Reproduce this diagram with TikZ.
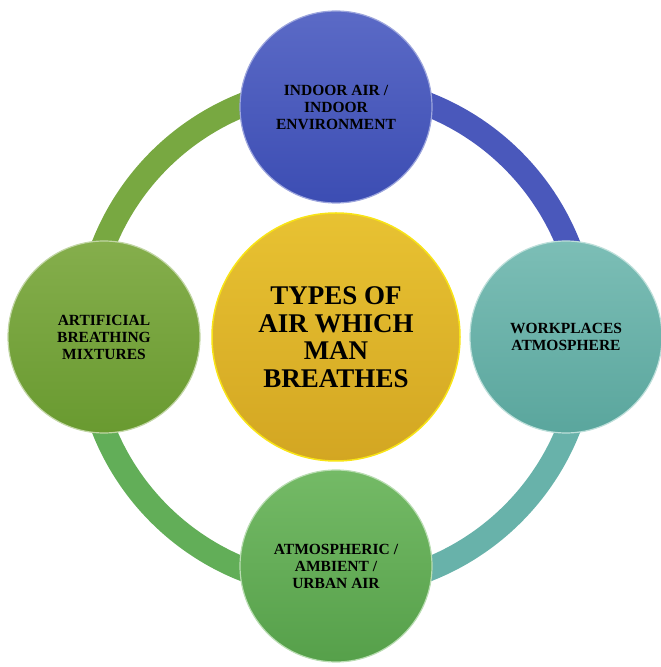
\documentclass[tikz,border=0pt]{standalone}
\usepackage{fontspec}
\setmainfont{Liberation Serif}
\begin{document}
\begin{tikzpicture}[x=1pt,y=1pt,
  bubble/.style={circle, inner sep=0pt, minimum size=192pt, align=center,
    font=\bfseries\fontsize{15.5}{17}\selectfont, line width=1.2pt},
  hub/.style={circle, inner sep=0pt, minimum size=248pt, align=center,
    font=\bfseries\fontsize{27}{27.5}\selectfont, line width=1.5pt},
  ringseg/.style={line width=24pt}]
\useasboundingbox (0,0) rectangle (661,667);
\definecolor{bluetop}{HTML}{5B6AC6}\definecolor{bluebot}{HTML}{3C4DB3}
\definecolor{tealtop}{HTML}{7CBEB6}\definecolor{tealbot}{HTML}{5AA69D}
\definecolor{olivtop}{HTML}{85AE4C}\definecolor{olivbot}{HTML}{699A30}
\definecolor{grntop}{HTML}{74BA66}\definecolor{grnbot}{HTML}{56A04A}
\definecolor{yeltop}{HTML}{E8C232}\definecolor{yelbot}{HTML}{D3A622}
\definecolor{ringblue}{HTML}{4A58BB}\definecolor{ringteal}{HTML}{68B2AA}
\definecolor{ringoliv}{HTML}{78A841}\definecolor{ringgrn}{HTML}{62AE58}
\coordinate (c) at (336,330);
% ring
\draw[ringseg, ringblue] ([shift={(90:250)}]c) arc[start angle=90, end angle=0, radius=250];
\draw[ringseg, ringteal] ([shift={(0:250)}]c) arc[start angle=0, end angle=-90, radius=250];
\draw[ringseg, ringgrn] ([shift={(-90:250)}]c) arc[start angle=-90, end angle=-180, radius=250];
\draw[ringseg, ringoliv] ([shift={(180:250)}]c) arc[start angle=180, end angle=90, radius=250];
% circles
\node[hub, top color=yeltop, bottom color=yelbot, draw=yellow!70!yeltop] (hub) at (336,330)
  {TYPES OF\\AIR WHICH\\MAN\\BREATHES};
\node[bubble, top color=bluetop, bottom color=bluebot, draw=bluetop!60!white] (indoor) at (336,560)
  {INDOOR AIR /\\INDOOR\\ENVIRONMENT};
\node[bubble, top color=tealtop, bottom color=tealbot, draw=tealtop!50!white] (work) at (566,330)
  {WORKPLACES\\ATMOSPHERE};
\node[bubble, top color=grntop, bottom color=grnbot, draw=grntop!50!white] (atmo) at (336,101)
  {ATMOSPHERIC /\\AMBIENT /\\URBAN AIR};
\node[bubble, top color=olivtop, bottom color=olivbot, draw=olivtop!50!white] (art) at (104,330)
  {ARTIFICIAL\\BREATHING\\MIXTURES};
\end{tikzpicture}
\end{document}
